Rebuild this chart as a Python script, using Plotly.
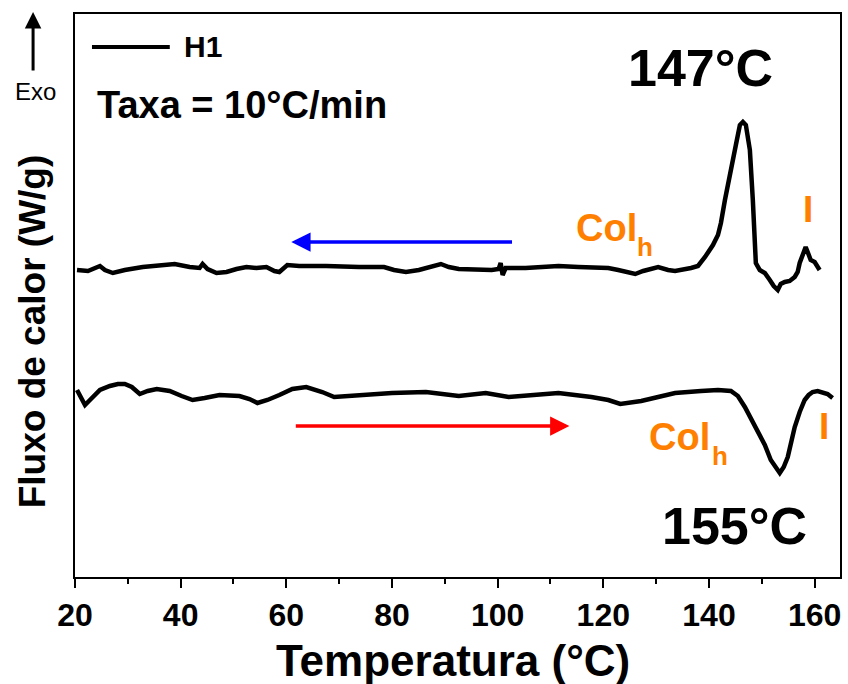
import plotly.graph_objects as go

# DSC traces of sample H1 (temperature in °C, heat flow in W/g, offset for clarity)
cool_T = [20.38, 22.45, 24.72, 25.66, 27.17, 29.43, 32.83, 36.04, 38.87, 41.70, 43.58, 44.15,
          45.09, 46.79, 48.68, 50.57, 52.45, 54.34, 56.23, 57.74, 58.68, 60.19, 62.45, 67.55,
          70.94, 73.77, 78.49, 80.38, 82.64, 85.09, 89.25, 90.75, 92.64, 96.42, 98.87, 100.19,
          100.57, 100.94, 101.51, 105.28, 108.68, 111.51, 115.28, 117.74, 120.94, 122.83, 124.72,
          126.04, 127.55, 130.38, 132.26, 133.58, 136.60, 137.92, 139.25, 140.75, 141.70, 142.26,
          143.02, 144.15, 145.09, 145.85, 146.42, 146.98, 147.74, 148.30, 148.68, 148.87, 149.62,
          150.57, 151.51, 152.26, 153.02, 153.58, 154.34, 155.28, 156.23, 156.79, 157.17, 157.74,
          158.30, 158.68, 159.25, 160.00, 160.57, 160.94]
cool_HF = [3.07, 3.06, 3.11, 3.07, 3.04, 3.07, 3.10, 3.11, 3.13, 3.10, 3.09, 3.13,
           3.08, 3.04, 3.05, 3.08, 3.10, 3.09, 3.10, 3.06, 3.05, 3.12, 3.11, 3.11,
           3.10, 3.10, 3.10, 3.07, 3.05, 3.07, 3.13, 3.10, 3.08, 3.07, 3.07, 3.08,
           3.14, 3.02, 3.09, 3.09, 3.10, 3.11, 3.10, 3.10, 3.09, 3.07, 3.04,
           3.03, 3.06, 3.10, 3.07, 3.06, 3.09, 3.11, 3.20, 3.32, 3.42, 3.54,
           3.77, 4.10, 4.32, 4.52, 4.55, 4.52, 4.27, 3.77, 3.37, 3.14, 3.07,
           3.04, 2.97, 2.91, 2.87, 2.93, 2.95, 2.96, 3.00, 3.05, 3.14, 3.22,
           3.30, 3.25, 3.17, 3.15, 3.09, 3.07]

heat_T = [20.38, 21.13, 21.89, 22.83, 24.72, 26.60, 28.11, 29.43, 30.75, 32.26, 33.77, 35.47,
          37.92, 40.19, 42.26, 44.53, 47.36, 51.13, 53.02, 54.53, 56.42, 58.68, 61.13, 63.77,
          65.28, 66.79, 69.06, 73.77, 80.00, 86.42, 89.81, 92.64, 97.74, 102.08, 106.79, 111.51,
          117.74, 120.94, 123.21, 127.17, 130.38, 133.58, 138.49, 141.70, 144.15, 145.47, 146.79,
          147.92, 149.25, 150.57, 151.70, 152.64, 153.40, 154.15, 154.91, 155.66, 156.23, 157.17,
          158.11, 158.87, 159.62, 160.57, 161.51, 162.45, 163.40]
heat_HF = [1.87, 1.79, 1.72, 1.77, 1.87, 1.91, 1.93, 1.93, 1.90, 1.83, 1.86, 1.88,
           1.86, 1.81, 1.77, 1.79, 1.82, 1.81, 1.78, 1.74, 1.77, 1.82, 1.88, 1.90,
           1.88, 1.85, 1.80, 1.82, 1.84, 1.85, 1.83, 1.81, 1.84, 1.80, 1.82, 1.84,
           1.80, 1.77, 1.73, 1.76, 1.80, 1.84, 1.86, 1.87, 1.86, 1.81, 1.70,
           1.59, 1.47, 1.32, 1.17, 1.09, 1.04, 1.10, 1.20, 1.37, 1.50, 1.65,
           1.77, 1.82, 1.85, 1.86, 1.85, 1.83, 1.79]

x_ticks = [20, 40, 60, 80, 100, 120, 140, 160]
transition_temps = [147, 155]  # cooling / heating transition temperatures

FONT = "Liberation Sans, Arial, Helvetica, sans-serif"
ORANGE = "#FF8000"

fig = go.Figure()
fig.add_trace(go.Scatter(x=cool_T, y=cool_HF, mode="lines", name="H1",
                         line=dict(color="black", width=4.5), showlegend=False))
fig.add_trace(go.Scatter(x=heat_T, y=heat_HF, mode="lines", name="H1",
                         line=dict(color="black", width=4.5), showlegend=False))


def label(x, y, text, size, color="black", xanchor="center", **kw):
    return dict(xref="paper", yref="paper", x=x, y=y, xanchor=xanchor, yanchor="middle",
                text=text, showarrow=False, font=dict(size=size, color=color, family=FONT), **kw)


ann = []
# legend entry and heating-rate note
ann.append(label(0.1395, 0.9414, "<b>H1</b>", 30, xanchor="left"))
ann.append(label(0.026, 0.8384, "<b>Taxa = 10°C/min</b>", 38, xanchor="left"))
# transition temperatures
ann.append(label(0.8175, 0.904, "<b>%d°C</b>" % transition_temps[0], 52))
ann.append(label(0.8618, 0.0906, "<b>%d°C</b>" % transition_temps[1], 52))
# phase labels: Col_h (columnar hexagonal) and I (isotropic)
for (cx, cy), (hx, hy) in [((0.6525, 0.620), (0.7314, 0.586)),
                           ((0.7477, 0.2487), (0.8305, 0.2149))]:
    ann.append(label(cx, cy, "<b>Col</b>", 38, ORANGE, xanchor="left"))
    ann.append(label(hx, hy, "<b>h</b>", 26, ORANGE, xanchor="left"))
for px_, py_ in [(0.9583, 0.6519), (0.9791, 0.2682)]:
    ann.append(label(px_, py_, "<b>I</b>", 37, ORANGE))
# scan direction arrows (cooling: blue, heating: red)
ann.append(dict(x=60.94, y=3.35, ax=103.0, ay=3.35, xref="x", yref="y", axref="x", ayref="y",
                text="", showarrow=True, arrowhead=2, arrowsize=1.1, arrowwidth=3.5,
                arrowcolor="#0000FF", standoff=0, startstandoff=0))
ann.append(dict(x=113.58, y=1.51, ax=61.51, ay=1.51, xref="x", yref="y", axref="x", ayref="y",
                text="", showarrow=True, arrowhead=2, arrowsize=1.1, arrowwidth=3.5,
                arrowcolor="#FF0000", standoff=0, startstandoff=0))
# exothermic direction marker
ann.append(dict(xref="paper", yref="paper", x=-0.0548, y=1.0036, axref="pixel", ayref="pixel",
                ax=0, ay=60, text="", showarrow=True, arrowhead=2, arrowsize=1.1, arrowwidth=3,
                arrowcolor="black", standoff=0))
ann.append(label(-0.0522, 0.8632, "Exo", 24))
# axis titles
ann.append(label(-0.0545, 0.437, "<b>Fluxo de calor (W/g)</b>", 37, textangle=-90))
ann.append(label(0.494, -0.149, "<b>Temperatura (°C)</b>", 44))

fig.update_layout(
    width=848, height=684,
    margin=dict(l=75, r=6, t=14, b=107),
    paper_bgcolor="white", plot_bgcolor="white",
    font=dict(family=FONT, color="black"),
    annotations=ann,
    shapes=[dict(type="line", xref="paper", yref="paper", x0=0.0222, x1=0.1239,
                 y0=0.9414, y1=0.9414, line=dict(color="black", width=4))],
)
fig.update_xaxes(
    range=[20, 164.8], tickvals=x_ticks, ticktext=["<b>%d</b>" % v for v in x_ticks],
    ticks="outside", ticklen=9, tickwidth=2, tickcolor="black",
    minor=dict(dtick=10, ticks="outside", ticklen=5, tickwidth=2, tickcolor="black"),
    tickfont=dict(size=32, family=FONT, color="black"),
    showline=True, linecolor="black", linewidth=2, mirror=True,
    showgrid=False, zeroline=False,
)
fig.update_yaxes(
    range=[0, 5.63], showticklabels=False, ticks="",
    showline=True, linecolor="black", linewidth=2, mirror=True,
    showgrid=False, zeroline=False,
)

fig.write_html("out.html")
